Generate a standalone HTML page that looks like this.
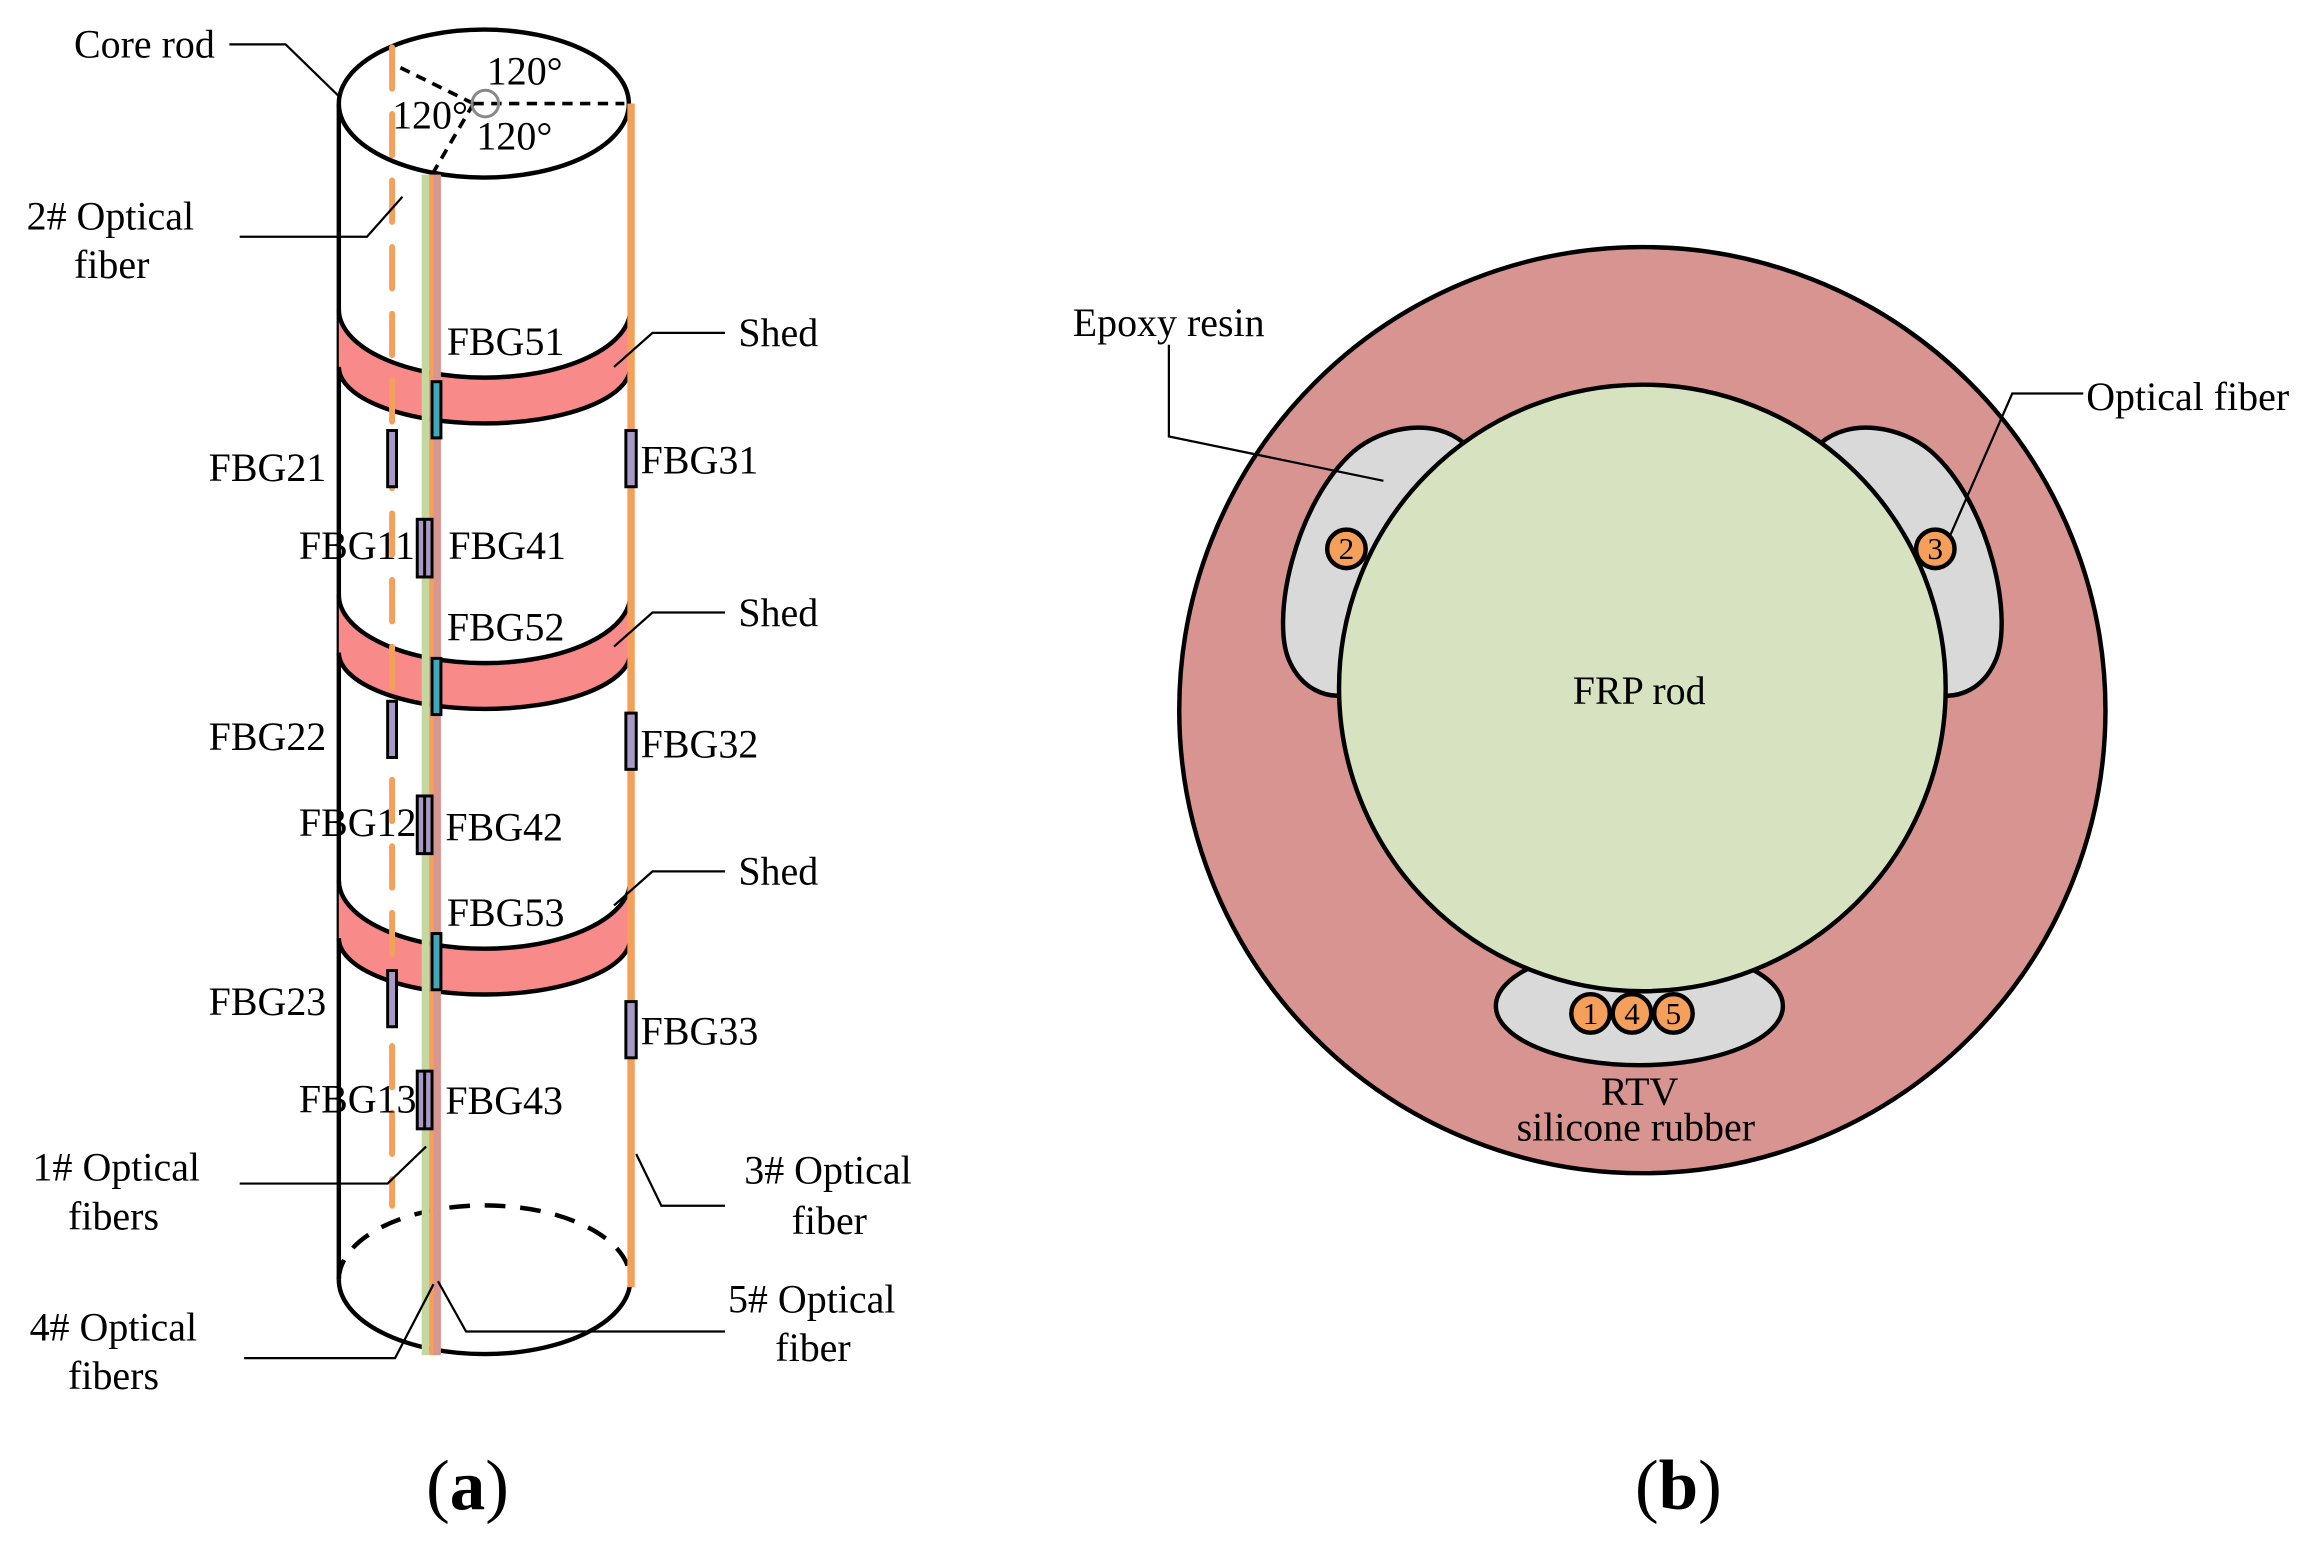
<!DOCTYPE html>
<html><head><meta charset="utf-8"><style>
html,body{margin:0;padding:0;background:#fff}
svg{display:block}
text{font-family:"Liberation Serif",serif;fill:#000}
</style></head><body>
<svg width="2320" height="1549" viewBox="0 0 1568 1047" preserveAspectRatio="none" xmlns="http://www.w3.org/2000/svg">
<g stroke="#000" stroke-width="3" fill="none">
  <ellipse cx="327" cy="70" rx="98" ry="50" fill="#fff"/>
  <line x1="229" y1="70" x2="229" y2="865"/>
  <line x1="426" y1="70" x2="426" y2="865"/>
</g>
<g id="shed">
  <path d="M229,209 A98,46 0 0 0 426,209 L426,248 A98,38 0 0 1 229,248 Z" fill="#f98a8a" stroke="none"/>
  <path d="M229,209 A98,46 0 0 0 426,209" fill="none" stroke="#000" stroke-width="3"/>
  <path d="M229,248 A98,38 0 0 0 426,248" fill="none" stroke="#000" stroke-width="3"/>
</g>
<use href="#shed" transform="translate(0,193)"/>
<use href="#shed" transform="translate(0,386)"/>
<path d="M229,865 A98,50 0 0 0 426,865" fill="none" stroke="#000" stroke-width="3"/>
<path d="M229,865 A98,50 0 0 1 426,865" fill="none" stroke="#000" stroke-width="3" stroke-dasharray="14,10"/>
<g stroke="#000" stroke-width="2.5" stroke-dasharray="7,5" fill="none">
  <line x1="320" y1="70" x2="422" y2="70"/>
  <line x1="320" y1="70" x2="265" y2="43"/>
  <line x1="320" y1="70" x2="292" y2="118"/>
</g>
<circle cx="328" cy="70" r="9" fill="none" stroke="#888" stroke-width="2"/>
<line x1="265" y1="32" x2="265" y2="815" stroke="#f4a05a" stroke-width="4" stroke-linecap="round" stroke-dasharray="28,17"/>
<rect x="285" y="118" width="5" height="798" fill="#c5d7a0"/>
<rect x="290" y="118" width="3" height="798" fill="#f4a05a"/>
<rect x="293" y="118" width="5" height="798" fill="#d99590"/>
<rect x="424" y="70" width="5" height="800" fill="#f4a05a"/>
<g stroke="#000" stroke-width="2">
  <rect x="292" y="258" width="6" height="38" fill="#40a8b8"/>
  <rect x="292" y="445" width="6" height="38" fill="#40a8b8"/>
  <rect x="292" y="631" width="6" height="38" fill="#40a8b8"/>
  <rect x="262" y="291" width="6" height="38" fill="#a89ac4"/>
  <rect x="262" y="474" width="6" height="38" fill="#a89ac4"/>
  <rect x="262" y="656" width="6" height="38" fill="#a89ac4"/>
  <rect x="423" y="291" width="7" height="38" fill="#a89ac4"/>
  <rect x="423" y="482" width="7" height="38" fill="#a89ac4"/>
  <rect x="423" y="677" width="7" height="38" fill="#a89ac4"/>
  <rect x="282" y="351" width="10" height="39" fill="#a89ac4"/>
  <rect x="282" y="538" width="10" height="39" fill="#a89ac4"/>
  <rect x="282" y="724" width="10" height="39" fill="#a89ac4"/>
  <line x1="287" y1="351" x2="287" y2="390"/>
  <line x1="287" y1="538" x2="287" y2="577"/>
  <line x1="287" y1="724" x2="287" y2="763"/>
</g>
<g stroke="#000" stroke-width="1.5" fill="none">
  <polyline points="155,30 193,30 229,65"/>
  <polyline points="162,160 248,160 272,133"/>
  <polyline points="490,225 441,225 415,248"/>
  <polyline points="490,414 441,414 415,437"/>
  <polyline points="490,589 441,589 415,612"/>
  <polyline points="162,800 262,800 288,775"/>
  <polyline points="490,815 447,815 430,780"/>
  <polyline points="165,918 267,918 293,868"/>
  <polyline points="490,900 315,900 296,866"/>
</g>
<g font-size="27">
  <text x="50" y="39">Core rod</text>
  <text x="329" y="57">120°</text>
  <text x="265" y="87">120°</text>
  <text x="322" y="101">120°</text>
  <text x="18" y="155">2# Optical</text>
  <text x="50" y="188">fiber</text>
  <text x="302" y="240">FBG51</text>
  <text x="499" y="234">Shed</text>
  <text x="141" y="325">FBG21</text>
  <text x="433" y="320">FBG31</text>
  <text x="202" y="378">FBG11</text>
  <text x="303" y="378">FBG41</text>
  <text x="302" y="433">FBG52</text>
  <text x="499" y="423">Shed</text>
  <text x="141" y="507">FBG22</text>
  <text x="433" y="512">FBG32</text>
  <text x="202" y="565">FBG12</text>
  <text x="301" y="568">FBG42</text>
  <text x="302" y="626">FBG53</text>
  <text x="499" y="598">Shed</text>
  <text x="141" y="686">FBG23</text>
  <text x="433" y="706">FBG33</text>
  <text x="202" y="752">FBG13</text>
  <text x="301" y="753">FBG43</text>
  <text x="22" y="798">1# Optical</text>
  <text x="46" y="831">fibers</text>
  <text x="503" y="800">3# Optical</text>
  <text x="535" y="834">fiber</text>
  <text x="20" y="906">4# Optical</text>
  <text x="46" y="939">fibers</text>
  <text x="492" y="887">5# Optical</text>
  <text x="524" y="920">fiber</text>
</g>
<text x="288" y="1020" font-size="48">(<tspan font-weight="bold">a</tspan>)</text>
<text x="1105" y="1020" font-size="48">(<tspan font-weight="bold">b</tspan>)</text>
<circle cx="1110" cy="480" r="313" fill="#d79490" stroke="#000" stroke-width="3"/>
<g fill="#d9d9d9" stroke="#000" stroke-width="3">
  <path d="M990,300 C970,282 935,288 915,305 C875,340 858,420 872,448 C880,465 895,472 910,470 L1000,400 Z"/>
  <path d="M1230,300 C1250,282 1285,288 1305,305 C1345,340 1362,420 1348,448 C1340,465 1325,472 1310,470 L1220,400 Z"/>
  <ellipse cx="1108" cy="680" rx="97" ry="40"/>
</g>
<circle cx="1110" cy="465" r="205" fill="#d6e2c0" stroke="#000" stroke-width="3"/>
<g fill="#f4a05a" stroke="#000" stroke-width="3">
  <circle cx="910" cy="371" r="13"/>
  <circle cx="1308" cy="371" r="13"/>
  <circle cx="1075" cy="685" r="13"/>
  <circle cx="1103" cy="685" r="13"/>
  <circle cx="1131" cy="685" r="13"/>
</g>
<g font-size="21" text-anchor="middle">
  <text x="910" y="378">2</text>
  <text x="1308" y="378">3</text>
  <text x="1075" y="692">1</text>
  <text x="1103" y="692">4</text>
  <text x="1131" y="692">5</text>
</g>
<g stroke="#000" stroke-width="1.5" fill="none">
  <polyline points="790,233 790,295 935,325"/>
  <polyline points="1408,266 1360,266 1318,362"/>
</g>
<g font-size="27">
  <text x="725" y="227">Epoxy resin</text>
  <text x="1410" y="277">Optical fiber</text>
  <text x="1063" y="476">FRP rod</text>
  <text x="1082" y="747">RTV</text>
  <text x="1025" y="771">silicone rubber</text>
</g>
</svg>
</body></html>
